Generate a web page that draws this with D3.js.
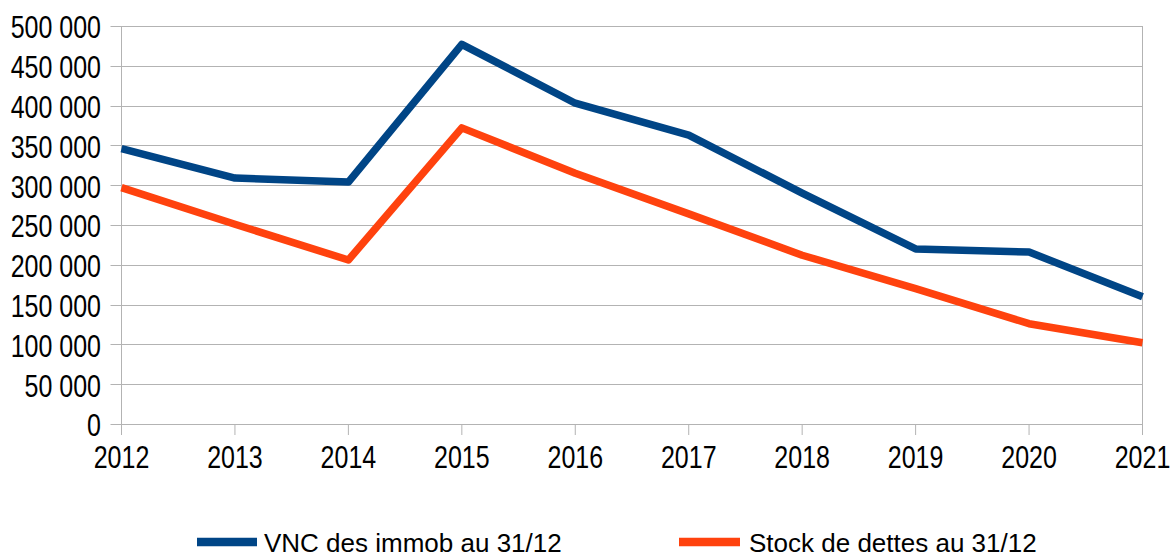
<!DOCTYPE html>
<html>
<head>
<meta charset="utf-8">
<script src="https://cdn.jsdelivr.net/npm/d3@7"></script>
<style>
  body { margin: 0; background: #fff; }
  text { font-family: "Liberation Sans", Arial, sans-serif; fill: #000; }
</style>
</head>
<body>
<div class="chart"></div>
<script>
'use strict';

const years = ['2012', '2013', '2014', '2015', '2016', '2017', '2018', '2019', '2020', '2021'];
const vnc = [346000, 309000, 304000, 477000, 403000, 363000, 290000, 220000, 216000, 160000];
const dettes = [297000, 251000, 206000, 372000, 315000, 264000, 212000, 170000, 126000, 102000];
const yTicks = [0, 50000, 100000, 150000, 200000, 250000, 300000, 350000, 400000, 450000, 500000];

const series = [
  {name: 'VNC des immob au 31/12', values: vnc, color: '#004586'},
  {name: 'Stock de dettes au 31/12', values: dettes, color: '#ff420e'}
];

const WIDTH = 1173;
const HEIGHT = 556;
const margin = {left: 121.5, right: 30.5, top: 26, bottom: 132};

const svg = d3.select('.chart')
  .append('svg')
    .attr('width', WIDTH)
    .attr('height', HEIGHT);

const x = d3.scalePoint()
    .domain(years)
    .range([margin.left, WIDTH - margin.right]);

const y = d3.scaleLinear()
    .domain([0, 500000])
    .range([HEIGHT - margin.bottom, margin.top]);

const fmt = (d) => d3.format(',')(d).replace(/,/g, ' ');

// horizontal gridlines + y tick marks
svg.append('g')
  .selectAll('line')
  .data(yTicks)
  .enter().append('line')
    .attr('x1', margin.left - 11)
    .attr('x2', WIDTH - margin.right)
    .attr('y1', (d) => Math.round(y(d)) + 0.5)
    .attr('y2', (d) => Math.round(y(d)) + 0.5)
    .attr('stroke', '#b3b3b3')
    .attr('stroke-width', 1);

// vertical axis line and x tick marks
svg.append('line')
    .attr('x1', margin.left).attr('x2', margin.left)
    .attr('y1', margin.top).attr('y2', HEIGHT - margin.bottom + 11)
    .attr('stroke', '#b3b3b3');

svg.append('g')
  .selectAll('line')
  .data(years)
  .enter().append('line')
    .attr('x1', (d) => x(d))
    .attr('x2', (d) => x(d))
    .attr('y1', (d) => d === years[years.length - 1] ? margin.top : HEIGHT - margin.bottom)
    .attr('y2', HEIGHT - margin.bottom + 11)
    .attr('stroke', '#b3b3b3');

// y labels (the source glyphs are a bit taller than wide)
svg.append('g')
  .selectAll('text')
  .data(yTicks)
  .enter().append('text')
    .attr('transform', (d) => `translate(101, ${y(d) + 12.3}) scale(1, 1.22)`)
    .attr('text-anchor', 'end')
    .style('font-size', '25px')
    .text(fmt);

// x labels
svg.append('g')
  .selectAll('text')
  .data(years)
  .enter().append('text')
    .attr('transform', (d) => `translate(${x(d)}, 468.3) scale(1, 1.22)`)
    .attr('text-anchor', 'middle')
    .style('font-size', '25px')
    .text((d) => d);

const line = d3.line()
    .x((d, i) => x(years[i]))
    .y((d) => y(d));

svg.append('g')
  .selectAll('path')
  .data(series)
  .enter().append('path')
    .attr('d', (d) => line(d.values))
    .attr('fill', 'none')
    .attr('stroke', (d) => d.color)
    .attr('stroke-width', 7.5)
    .attr('stroke-linejoin', 'round');

// legend
const legendX = [197, 679];
const legend = svg.append('g')
  .selectAll('g')
  .data(series)
  .enter().append('g')
    .attr('transform', (d, i) => `translate(${legendX[i]}, 542)`);

legend.append('line')
    .attr('x1', 0).attr('x2', (d, i) => i === 0 ? 60 : 61)
    .attr('stroke', (d) => d.color)
    .attr('stroke-width', 8.5);

legend.append('text')
    .attr('x', (d, i) => i === 0 ? 67 : 70)
    .attr('y', 9.5)
    .style('font-size', '26px')
    .text((d) => d.name);
</script>
</body>
</html>
